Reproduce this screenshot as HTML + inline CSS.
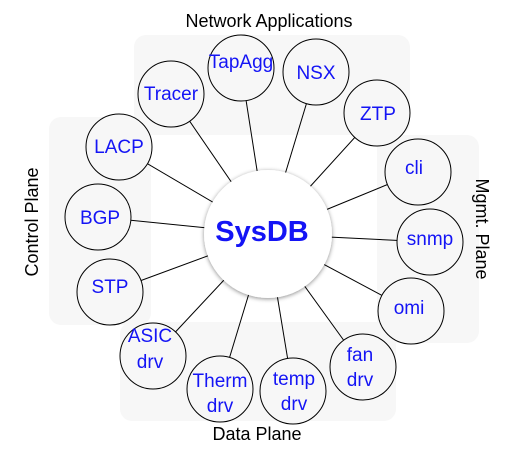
<!DOCTYPE html>
<html><head><meta charset="utf-8"><style>
html,body{margin:0;padding:0;background:#fff;width:512px;height:449px;overflow:hidden}
text{font-family:"Liberation Sans",sans-serif}
</style></head><body>
<svg width="512" height="449" viewBox="0 0 512 449" xmlns="http://www.w3.org/2000/svg">
<defs><filter id="sh" x="-30%" y="-30%" width="160%" height="160%"><feDropShadow dx="0" dy="1" stdDeviation="2" flood-color="#000" flood-opacity="0.45"/></filter></defs>
<g fill="#f7f7f7">
<rect x="134" y="35" width="276" height="100" rx="12"/>
<rect x="49" y="117" width="102" height="208" rx="12"/>
<rect x="377" y="135" width="102" height="208" rx="12"/>
<rect x="120" y="322" width="276" height="99" rx="12"/>
</g>
<g stroke="#000" stroke-width="1">
<line x1="171" y1="94" x2="267" y2="234"/>
<line x1="241" y1="68" x2="267" y2="234"/>
<line x1="316" y1="72" x2="267" y2="234"/>
<line x1="377" y1="113" x2="267" y2="234"/>
<line x1="119" y1="147" x2="267" y2="234"/>
<line x1="418" y1="172" x2="267" y2="234"/>
<line x1="98" y1="217" x2="267" y2="234"/>
<line x1="430" y1="242" x2="267" y2="234"/>
<line x1="110" y1="292" x2="267" y2="234"/>
<line x1="411" y1="311" x2="267" y2="234"/>
<line x1="153" y1="356" x2="267" y2="234"/>
<line x1="220" y1="389" x2="267" y2="234"/>
<line x1="293" y1="391" x2="267" y2="234"/>
<line x1="363" y1="367" x2="267" y2="234"/>
</g>
<g fill="#f7f7f7" stroke="#000" stroke-width="1">
<circle cx="171" cy="94" r="33"/><circle cx="241" cy="68" r="33"/>
<circle cx="316" cy="72" r="33"/><circle cx="377" cy="113" r="33"/>
<circle cx="119" cy="147" r="33"/><circle cx="418" cy="172" r="33"/>
<circle cx="98" cy="217" r="33"/><circle cx="430" cy="242" r="33"/>
<circle cx="110" cy="292" r="33"/><circle cx="411" cy="311" r="33"/>
<circle cx="153" cy="356" r="33"/><circle cx="220" cy="389" r="33"/>
<circle cx="293" cy="391" r="33"/><circle cx="363" cy="367" r="33"/>
</g>
<circle cx="268" cy="234" r="64" fill="#fff" filter="url(#sh)"/>
<g fill="#1414f5" font-size="19" text-anchor="middle">
<text x="171" y="100">Tracer</text>
<text x="241" y="68">TapAgg</text>
<text x="316" y="79">NSX</text>
<text x="378" y="120">ZTP</text>
<text x="119" y="153">LACP</text>
<text x="414" y="174">cli</text>
<text x="100" y="224">BGP</text>
<text x="430" y="245">snmp</text>
<text x="110" y="293">STP</text>
<text x="409" y="314">omi</text>
<text x="150" y="342">ASIC</text><text x="150" y="368">drv</text>
<text x="220" y="387">Therm</text><text x="220" y="412">drv</text>
<text x="294" y="385">temp</text><text x="294" y="410">drv</text>
<text x="360" y="361">fan</text><text x="360" y="386">drv</text>
<text x="262" y="241" font-size="29" font-weight="bold">SysDB</text>
</g>
<g fill="#000" font-size="18" text-anchor="middle">
<text x="269" y="27">Network Applications</text>
<text x="257" y="440">Data Plane</text>
<text transform="translate(38,222) rotate(-90)">Control Plane</text>
<text transform="translate(476,229) rotate(90)">Mgmt. Plane</text>
</g>
</svg>
</body></html>
